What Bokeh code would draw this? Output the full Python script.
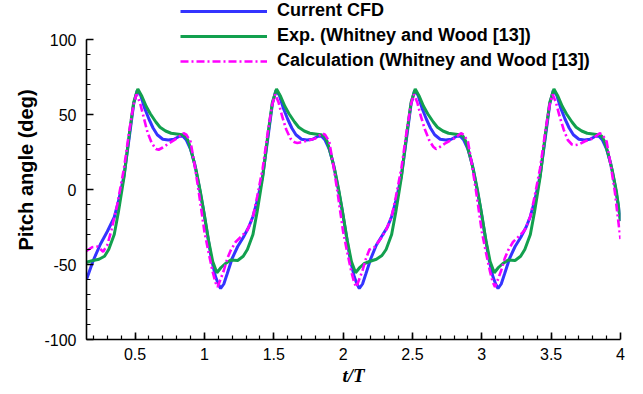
from bokeh.plotting import figure
from bokeh.models import Range1d, FixedTicker, Legend, LegendItem, NumeralTickFormatter, Title
from bokeh.embed import file_html
from bokeh.resources import INLINE

# ---------------- data ----------------
cfd_t = [0.15, 0.20, 0.25, 0.30, 0.35, 0.38, 0.42, 0.46, 0.49, 0.515, 0.54, 0.57, 0.60, 0.63, 0.66,
         0.70, 0.74, 0.78, 0.82, 0.845, 0.87, 0.90, 0.93, 0.96, 0.99, 1.02, 1.05, 1.08, 1.10,
         1.117, 1.14, 1.165, 1.20, 1.24, 1.28, 1.32, 1.35, 1.38, 1.42, 1.46, 1.49, 1.515, 1.54, 1.57,
         1.60, 1.63, 1.66, 1.70, 1.74, 1.78, 1.82, 1.845, 1.87, 1.90, 1.93, 1.96, 1.99, 2.02, 2.05, 2.08, 2.10,
         2.117, 2.14, 2.165, 2.20, 2.24, 2.28, 2.32, 2.35, 2.38, 2.42, 2.46, 2.49, 2.515, 2.54, 2.57,
         2.60, 2.63, 2.66, 2.70, 2.74, 2.78, 2.82, 2.845, 2.87, 2.90, 2.93, 2.96, 2.99, 3.02, 3.05, 3.08, 3.10,
         3.117, 3.14, 3.165, 3.20, 3.24, 3.28, 3.32, 3.35, 3.38, 3.42, 3.46, 3.49, 3.515, 3.54, 3.57,
         3.60, 3.63, 3.66, 3.70, 3.74, 3.78, 3.82, 3.845, 3.87, 3.90, 3.93, 3.96, 3.99, 4.00]
cfd_a = [-60, -47, -36.5, -28, -18.5, -8, 9, 36, 57, 66, 63, 54, 47, 41, 36.5,
         33.5, 33, 33.5, 35.5, 35.5, 33, 27, 17, 3, -12, -29, -46, -58, -63,
         -66, -63, -56, -46, -38, -32, -25, -18, -8, 9, 36, 57, 66, 63, 54,
         47, 41, 36.5, 33.5, 33, 33.5, 35.5, 35.5, 33, 27, 17, 3, -12, -29, -46, -58, -63,
         -66, -63, -56, -46, -37, -31, -25, -18, -8, 9, 36, 57, 66, 63, 54,
         47, 41, 36.5, 33.5, 33, 33.5, 35.5, 35.5, 33, 27, 17, 3, -12, -29, -46, -58, -63,
         -66, -63, -56, -46, -38, -32, -25, -18, -8, 9, 36, 57, 66, 63, 54,
         47, 41, 36.5, 33.5, 33, 33.5, 35.5, 35.5, 33, 27, 17, 3, -14, -21]

exp_t = [0.15, 0.19, 0.24, 0.28, 0.31, 0.35, 0.38, 0.42, 0.46, 0.49, 0.52, 0.55, 0.58, 0.61, 0.65,
         0.68, 0.72, 0.76, 0.80, 0.84, 0.865, 0.885, 0.91, 0.94, 0.97, 1.00, 1.03, 1.06,
         1.09, 1.12, 1.15, 1.19, 1.24, 1.28, 1.31, 1.35, 1.38, 1.42, 1.46, 1.49, 1.52, 1.55, 1.58, 1.61, 1.65,
         1.68, 1.72, 1.76, 1.80, 1.84, 1.865, 1.885, 1.91, 1.94, 1.97, 2.00, 2.03, 2.06,
         2.09, 2.12, 2.15, 2.19, 2.24, 2.28, 2.31, 2.35, 2.38, 2.42, 2.46, 2.49, 2.52, 2.55, 2.58, 2.61, 2.65,
         2.68, 2.72, 2.76, 2.80, 2.84, 2.865, 2.885, 2.91, 2.94, 2.97, 3.00, 3.03, 3.06,
         3.09, 3.12, 3.15, 3.19, 3.24, 3.28, 3.31, 3.35, 3.38, 3.42, 3.46, 3.49, 3.52, 3.55, 3.58, 3.61, 3.65,
         3.68, 3.72, 3.76, 3.80, 3.84, 3.865, 3.885, 3.91, 3.94, 3.97, 4.00]
exp_a = [-48.5, -47.5, -46.5, -44.5, -40, -30, -15, 8, 38, 58, 67, 62, 55.5, 50.5, 45,
         41.5, 39, 37.5, 37, 36.5, 35.5, 32, 24, 13, -1, -17, -34, -48,
         -55.5, -52, -49.5, -47, -47.3, -44.5, -40, -30, -15, 8, 38, 58, 67, 62, 55.5, 50.5, 45,
         41.5, 39, 37.5, 37, 36.5, 35.5, 32, 24, 13, -1, -17, -34, -48,
         -55.5, -52, -49.5, -48, -46.5, -44, -40, -30, -15, 8, 38, 58, 67, 62, 55.5, 50.5, 45,
         41.5, 39, 37.5, 37, 36.5, 35.5, 32, 24, 13, -1, -17, -34, -48,
         -55.5, -52, -49.5, -47, -47.3, -44.5, -40, -30, -15, 8, 38, 58, 67, 62, 55.5, 50.5, 45,
         41.5, 39, 37.5, 37, 36.5, 35.5, 32, 24, 13, -1, -21]

calc_t = [0.15, 0.19, 0.23, 0.27, 0.30, 0.33, 0.37, 0.42, 0.46, 0.49, 0.51, 0.535, 0.56, 0.59, 0.62,
          0.65, 0.67, 0.70, 0.74, 0.80, 0.85, 0.87, 0.90, 0.93, 0.96, 0.98, 1.00, 1.03, 1.06, 1.08,
          1.095, 1.12, 1.14, 1.165, 1.19, 1.225, 1.27, 1.31, 1.35, 1.38, 1.42, 1.46, 1.49, 1.51, 1.535,
          1.56, 1.59, 1.62, 1.65, 1.67, 1.70, 1.74, 1.80, 1.85, 1.87, 1.90, 1.93, 1.96, 1.98, 2.00,
          2.03, 2.06, 2.08,
          2.095, 2.12, 2.14, 2.165, 2.19, 2.225, 2.27, 2.31, 2.35, 2.38, 2.42, 2.46, 2.49, 2.51, 2.535,
          2.56, 2.59, 2.62, 2.65, 2.67, 2.70, 2.74, 2.80, 2.85, 2.87, 2.90, 2.93, 2.96, 2.98, 3.00,
          3.03, 3.06, 3.08,
          3.095, 3.12, 3.14, 3.165, 3.19, 3.225, 3.27, 3.31, 3.35, 3.38, 3.42, 3.46, 3.49, 3.51, 3.535,
          3.56, 3.59, 3.62, 3.65, 3.67, 3.70, 3.74, 3.80, 3.85, 3.87, 3.90, 3.93, 3.96, 3.98, 4.00]
calc_a = [-41, -38.5, -38, -41.5, -37, -27, -11, 14, 40, 57, 63.5, 58, 49, 38, 31,
          27, 26.5, 28, 30.5, 34, 37.5, 36.5, 32, 16, -2, -15, -28, -42, -55, -62,
          -65, -59, -54, -46, -40.5, -35, -31, -27, -18, -5, 14, 40, 57, 63.5, 58,
          49, 40, 34, 31.5, 31, 31.5, 32.5, 34, 37.5, 36.5, 32, 16, -2, -15, -28,
          -42, -55, -62,
          -65, -59, -54, -46, -40, -38.5, -33, -27, -18, -5, 14, 40, 57, 63.5, 58,
          49, 40, 33, 28.5, 27, 28.5, 31, 34, 37.5, 36.5, 32, 16, -2, -15, -28,
          -42, -55, -62,
          -65, -59, -54, -46, -40.5, -35, -31, -27, -18, -5, 14, 40, 57, 63.5, 58,
          49, 40, 33, 30, 29.5, 30, 32, 34, 37.5, 36.5, 32, 16, -2, -18, -33]

series_names = ["Current CFD", "Exp. (Whitney and Wood [13])", "Calculation (Whitney and Wood [13])"]
x_ticks = [0.5, 1, 1.5, 2, 2.5, 3, 3.5, 4]
y_ticks = [-100, -50, 0, 50, 100]

# ---------------- figure ----------------
# frame extends up to the top edge so that the legend (which sits partly above
# the axes) is not clipped; the y axis itself is bounded to [-100, 100].
p = figure(width=643, height=394, output_backend="svg", toolbar_location=None,
           x_range=Range1d(0.15, 4.0), y_range=Range1d(-100, 126),
           min_border_left=86, min_border_right=23, min_border_top=0, min_border_bottom=55)
p.outline_line_color = None
p.xgrid.visible = False
p.ygrid.visible = False
p.background_fill_color = "white"
p.border_fill_color = "white"

FONT = "Liberation Sans"

r_cfd = p.line(cfd_t, cfd_a, line_color="#3434ff", line_width=3)
r_exp = p.line(exp_t, exp_a, line_color="#12a04e", line_width=3)
r_calc = p.line(calc_t, calc_a, line_color="#ff00ff", line_width=2.6, line_dash="8 3 2 3")

minor_x = [round(0.2 + 0.1 * i, 2) for i in range(38)]
minor_y = [-100 + 10 * i for i in range(21)]
p.xaxis.ticker = FixedTicker(ticks=x_ticks, minor_ticks=minor_x)
p.yaxis.ticker = FixedTicker(ticks=y_ticks, minor_ticks=minor_y)
p.xaxis.formatter = NumeralTickFormatter(format="0.[0]")
p.yaxis.formatter = NumeralTickFormatter(format="0")
p.yaxis.bounds = (-100, 100)

for ax in (p.xaxis[0], p.yaxis[0]):
    ax.axis_line_color = "black"
    ax.axis_line_width = 1.6
    ax.major_tick_line_color = "black"
    ax.major_tick_line_width = 1.6
    ax.minor_tick_line_color = "black"
    ax.minor_tick_line_width = 1.2
    ax.major_tick_in = 7
    ax.major_tick_out = 0
    ax.minor_tick_in = 4
    ax.minor_tick_out = 0
    ax.major_label_text_font = FONT
    ax.major_label_text_font_size = "16px"
    ax.major_label_text_color = "black"
    ax.axis_label_text_color = "black"

p.xaxis.major_label_standoff = 8
p.yaxis.major_label_standoff = 10
p.xaxis.axis_label = "t/T"
p.xaxis.axis_label_text_font = "Liberation Serif"
p.xaxis.axis_label_text_font_style = "bold italic"
p.xaxis.axis_label_text_font_size = "19px"
p.xaxis.axis_label_standoff = 2

# y axis title, centred on the [-100, 100] part of the axis
ytitle = Title(text="Pitch angle (deg)", align="center", offset=-19,
               text_font=FONT, text_font_style="bold", text_font_size="20px",
               text_color="black")
p.add_layout(ytitle, "left")

legend = Legend(items=[LegendItem(label=series_names[0], renderers=[r_cfd]),
                       LegendItem(label=series_names[1], renderers=[r_exp]),
                       LegendItem(label=series_names[2], renderers=[r_calc])],
                location=(94, 268), orientation="vertical")
legend.padding = 0
legend.margin = 0
legend.spacing = 4
legend.glyph_width = 87
legend.glyph_height = 20
legend.label_height = 20
legend.label_standoff = 10
legend.label_text_font = FONT
legend.label_text_font_style = "bold"
legend.label_text_font_size = "18px"
legend.label_text_color = "black"
legend.border_line_color = None
legend.background_fill_alpha = 0
p.add_layout(legend, "center")

open("out.html", "w").write(file_html(p, INLINE))
